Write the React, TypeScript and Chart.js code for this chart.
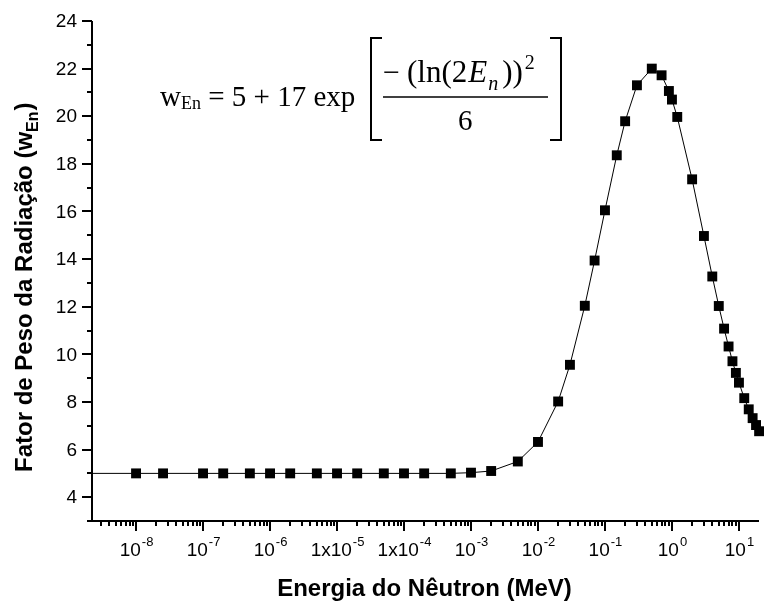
import { useEffect, useRef } from "react";
import { Chart, registerables } from "chart.js";

Chart.register(...registerables);

// Neutron energy (MeV) of each marker
const energiesMeV = [
  1e-8, 2.53e-8, 1e-7, 2e-7, 5e-7, 1e-6, 2e-6, 5e-6, 1e-5, 2e-5, 5e-5, 1e-4, 2e-4, 5e-4,
  1e-3, 2e-3, 5e-3, 1e-2, 2e-2, 3e-2, 5e-2, 7e-2, 0.1, 0.15, 0.2, 0.3, 0.5, 0.7, 0.9, 1.0,
  1.2, 2, 3, 4, 5, 6, 7, 8, 9, 10, 12, 14, 16, 18, 20,
];
// Radiation weighting factor read at each marker
const weightFactors = [
  5.0, 5.0, 5.0, 5.0, 5.0, 5.0, 5.0, 5.0, 5.0, 5.0, 5.0, 5.0, 5.0, 5.0,
  5.03, 5.1, 5.5, 6.32, 8.02, 9.56, 12.04, 13.94, 16.05, 18.36, 19.79, 21.3, 22.0, 21.72, 21.06, 20.7,
  19.97, 17.35, 14.97, 13.27, 12.03, 11.08, 10.33, 9.71, 9.22, 8.81, 8.16, 7.69, 7.32, 7.03, 6.77,
];
// curve starts at the left edge of the axis
const curveStartEnergy = 2.2e-9;
const curveStartWeight = 5.0;

const xMin = 2.2e-9;
const xMax = 18.6;
const yMin = 3;
const yMax = 24;

const xMajorTicks = [1e-8, 1e-7, 1e-6, 1e-5, 1e-4, 1e-3, 1e-2, 1e-1, 1, 10];
const xTickPrefixes = ["", "", "", "1x", "1x", "", "", "", "", ""];
const xTickExponents = ["-8", "-7", "-6", "-5", "-4", "-3", "-2", "-1", "0", "1"];
const yMajorTicks = [4, 6, 8, 10, 12, 14, 16, 18, 20, 22, 24];
const yMinorTicks = [3, 5, 7, 9, 11, 13, 15, 17, 19, 21, 23];

const xTitle = "Energia do Nêutron (MeV)";
const yTitleMain = "Fator de Peso da Radiação (w";
const yTitleSub = "En";
const yTitleEnd = ")";

const SANS = "'Liberation Sans', Arial, sans-serif";
const SERIF = "'Liberation Serif', 'Times New Roman', serif";

const decorPlugin = {
  id: "decor",
  afterDraw(chart: any) {
    const ctx: CanvasRenderingContext2D = chart.ctx;
    const xs = chart.scales.x;
    const ys = chart.scales.y;
    const area = chart.chartArea;
    ctx.save();
    ctx.strokeStyle = "#000";
    ctx.fillStyle = "#000";

    // axis lines
    ctx.lineWidth = 2;
    ctx.beginPath();
    ctx.moveTo(area.left, ys.getPixelForValue(yMax));
    ctx.lineTo(area.left, ys.getPixelForValue(yMin));
    ctx.lineTo(area.right + 2, ys.getPixelForValue(yMin));
    ctx.stroke();

    // y ticks
    ctx.lineWidth = 2;
    ctx.beginPath();
    yMajorTicks.forEach((v) => {
      const y = Math.round(ys.getPixelForValue(v));
      ctx.moveTo(area.left - 10, y);
      ctx.lineTo(area.left, y);
    });
    yMinorTicks.forEach((v) => {
      const y = Math.round(ys.getPixelForValue(v));
      ctx.moveTo(area.left - 5, y);
      ctx.lineTo(area.left, y);
    });
    ctx.stroke();

    ctx.font = `19px ${SANS}`;
    ctx.textAlign = "right";
    ctx.textBaseline = "middle";
    yMajorTicks.forEach((v) => {
      ctx.fillText(String(v), area.left - 15, ys.getPixelForValue(v) + 1);
    });

    // x ticks
    const yb = ys.getPixelForValue(yMin);
    ctx.beginPath();
    const lo = Math.floor(Math.log10(xMin));
    const hi = Math.ceil(Math.log10(xMax));
    for (let k = lo; k <= hi; k++) {
      for (let m = 1; m <= 9; m++) {
        const v = m * Math.pow(10, k);
        if (v < xMin || v > xMax) continue;
        const x = Math.round(xs.getPixelForValue(v));
        ctx.moveTo(x, yb);
        ctx.lineTo(x, yb + (m === 1 ? 10 : 5));
      }
    }
    ctx.stroke();

    // x tick labels with superscripts
    ctx.textAlign = "left";
    ctx.textBaseline = "alphabetic";
    xMajorTicks.forEach((v, i) => {
      const base = xTickPrefixes[i] + "10";
      const sup = xTickExponents[i];
      ctx.font = `19px ${SANS}`;
      const wb = ctx.measureText(base).width;
      ctx.font = `13px ${SANS}`;
      const ws = ctx.measureText(sup).width;
      const x0 = xs.getPixelForValue(v) - (wb + ws) / 2;
      ctx.font = `19px ${SANS}`;
      ctx.fillText(base, x0, 556);
      ctx.font = `13px ${SANS}`;
      ctx.fillText(sup, x0 + wb + 1, 546);
    });

    // x title
    ctx.font = `bold 24px ${SANS}`;
    ctx.textAlign = "center";
    ctx.fillText(xTitle, (area.left + area.right) / 2, 596);

    // y title (rotated)
    ctx.save();
    ctx.translate(32, 472);
    ctx.rotate(-Math.PI / 2);
    ctx.textAlign = "left";
    ctx.font = `bold 24px ${SANS}`;
    const w1 = ctx.measureText(yTitleMain).width;
    ctx.fillText(yTitleMain, 0, 0);
    ctx.font = `bold 16px ${SANS}`;
    const w2 = ctx.measureText(yTitleSub).width;
    ctx.fillText(yTitleSub, w1, 6);
    ctx.font = `bold 24px ${SANS}`;
    ctx.fillText(yTitleEnd, w1 + w2 + 1, 0);
    ctx.restore();

    // formula
    ctx.textAlign = "left";
    ctx.font = `29px ${SERIF}`;
    const ww = ctx.measureText("w").width;
    ctx.fillText("w", 160, 106);
    ctx.font = `18px ${SERIF}`;
    const wEn = ctx.measureText("En").width;
    ctx.fillText("En", 160 + ww, 109);
    ctx.font = `29px ${SERIF}`;
    ctx.fillText(" = 5 + 17 exp", 160 + ww + wEn, 106);

    // numerator
    ctx.font = `30px ${SERIF}`;
    ctx.fillText("\u2212", 383, 82);
    ctx.font = `31px ${SERIF}`;
    const wParen = ctx.measureText("(ln(2").width;
    ctx.fillText("(ln(2", 407, 82);
    let nx = 407 + wParen + 1;
    ctx.font = `italic 31px ${SERIF}`;
    ctx.fillText("E", nx, 82);
    nx += ctx.measureText("E").width + 1;
    ctx.font = `italic 20px ${SERIF}`;
    ctx.fillText("n", nx, 90);
    nx += ctx.measureText("n").width + 4;
    ctx.font = `31px ${SERIF}`;
    ctx.fillText("))", nx, 82);
    nx += ctx.measureText("))").width + 2;
    ctx.font = `20px ${SERIF}`;
    ctx.fillText("2", nx, 69);
    // fraction bar
    ctx.lineWidth = 1.5;
    ctx.beginPath();
    ctx.moveTo(383, 97);
    ctx.lineTo(548, 97);
    ctx.stroke();
    // denominator
    ctx.font = `29px ${SERIF}`;
    ctx.fillText("6", 458, 130);
    // brackets
    ctx.lineWidth = 2;
    ctx.beginPath();
    ctx.moveTo(382, 38);
    ctx.lineTo(371, 38);
    ctx.lineTo(371, 140);
    ctx.lineTo(382, 140);
    ctx.moveTo(550, 38);
    ctx.lineTo(561, 38);
    ctx.lineTo(561, 140);
    ctx.lineTo(550, 140);
    ctx.stroke();

    ctx.restore();
  },
};

export default function App() {
  const canvasRef = useRef<HTMLCanvasElement | null>(null);

  useEffect(() => {
    document.body.style.margin = "0";
    const canvas = canvasRef.current;
    if (!canvas) return;
    const markers = energiesMeV.map((e, i) => ({ x: e, y: weightFactors[i] }));
    const curve = [{ x: curveStartEnergy, y: curveStartWeight }, ...markers];
    const chart = new Chart(canvas, {
      type: "scatter",
      data: {
        datasets: [
          {
            data: curve,
            showLine: true,
            borderColor: "#000",
            borderWidth: 1,
            pointRadius: 0,
            clip: false,
          } as any,
          {
            data: markers,
            showLine: false,
            pointStyle: "rect",
            pointRadius: 7,
            backgroundColor: "#000",
            borderWidth: 0,
            clip: false,
          } as any,
        ],
      },
      options: {
        responsive: false,
        animation: false,
        layout: { padding: { left: 92, right: 0, top: 21, bottom: 85 } },
        plugins: { legend: { display: false }, tooltip: { enabled: false } },
        scales: {
          x: { type: "logarithmic", min: xMin, max: xMax, display: false },
          y: { type: "linear", min: yMin, max: yMax, display: false },
        },
      },
      plugins: [decorPlugin],
    });
    return () => chart.destroy();
  }, []);

  return (
    <div style={{ width: 764, height: 606, background: "#fff" }}>
      <canvas ref={canvasRef} width={764} height={606} />
    </div>
  );
}
